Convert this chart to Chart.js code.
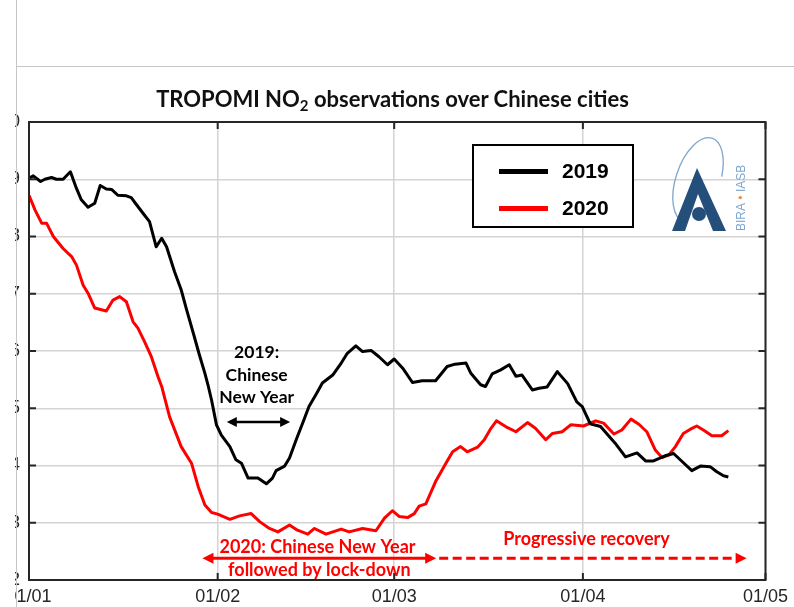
<!DOCTYPE html>
<html>
<head>
<meta charset="utf-8">
<script src="https://cdn.jsdelivr.net/npm/chart.js@4.4.1/dist/chart.umd.min.js"></script>
<style>
  html, body { margin: 0; padding: 0; background: #fff; }
  body { width: 794px; height: 607px; position: relative; overflow: hidden; }
  #frame { position: absolute; left: 15px; top: 0; width: 779px; height: 607px; overflow: hidden; }
  #frame canvas { position: absolute; left: -15px; top: 0; }
  #edgeV { position: absolute; left: 16px; top: 0; width: 1px; height: 607px; background: #c6c6c6; }
  #edgeH { position: absolute; left: 16px; top: 66px; width: 778px; height: 1px; background: #c6c6c6; }
  #title { position: absolute; left: 0; top: 88px; width: 785px; text-align: center;
           font: bold 22px Lato, 'Open Sans', sans-serif; line-height: 22px; color: #111; white-space: nowrap; }
  #title sub { font-size: 15px; line-height: 0; vertical-align: -4px; }
</style>
</head>
<body>
<div id="frame"><canvas id="chart" width="794" height="607"></canvas></div>
<div id="edgeV"></div>
<div id="edgeH"></div>
<div id="title">TROPOMI NO<sub>2</sub> observations over Chinese cities</div>
<script>
// Days since 1 January and mean tropospheric NO2 column for each year
const day2019 = [0, 0.7, 1.9, 2.6, 3.7, 4.5, 5.6, 6.8, 7.8, 8.6, 9.7, 10.8, 11.7, 12.7, 13.6, 14.6, 16, 16.8,
  17.7, 18.7, 19.8, 20.9, 21.8, 22.6, 23.9, 25, 25.9, 27, 28, 28.9, 29.4, 30, 30.8, 31.6, 33, 34, 34.9,
  36, 37.6, 39, 40, 40.6, 42, 42.8, 43.9, 45, 46, 47.2, 48.2, 49.9, 51.3, 52.3, 53.7, 54.8, 56.2, 57.5,
  58.9, 60, 61.4, 63, 64.6, 66.8, 68.7, 70, 71.8, 72.6, 74.2, 75, 76.1, 77.5, 78.9, 80, 81, 82.7, 83.8,
  85.1, 86.8, 88.5, 90, 90.9, 92.2, 93.9, 96.3, 98, 99.9, 101.3, 102.6, 104.5, 105.9, 107.3, 108.9,
  110.3, 111.9, 113, 114.1, 114.9];
const no2_2019 = [9.02, 9.06, 8.96, 9.00, 9.03, 9.00, 9.00, 9.13, 8.84, 8.64, 8.51, 8.58, 8.89, 8.83, 8.82, 8.72, 8.71, 8.68,
  8.55, 8.41, 8.26, 7.82, 7.97, 7.82, 7.39, 7.07, 6.72, 6.31, 5.93, 5.61, 5.41, 5.14, 4.71, 4.53, 4.33, 4.10, 4.04,
  3.78, 3.78, 3.68, 3.78, 3.91, 3.99, 4.13, 4.45, 4.75, 5.03, 5.25, 5.44, 5.58, 5.79, 5.96, 6.09, 5.99, 6.01, 5.90,
  5.76, 5.86, 5.70, 5.45, 5.48, 5.48, 5.73, 5.77, 5.79, 5.61, 5.41, 5.38, 5.60, 5.67, 5.76, 5.56, 5.58, 5.32, 5.35,
  5.37, 5.64, 5.43, 5.11, 5.03, 4.73, 4.68, 4.39, 4.15, 4.22, 4.08, 4.08, 4.17, 4.21, 4.07, 3.91,
  3.99, 3.98, 3.89, 3.82, 3.80];

const day2020 = [0, 1, 2.1, 2.9, 4, 5.6, 7, 7.8, 8.9, 9.7, 10.8, 12.7, 13.8, 14.9, 16, 17.1, 17.9, 19, 20.1,
  21.2, 21.8, 23.1, 25, 26.7, 27.8, 28.9, 30, 31, 33, 34.6, 36.5, 37.9, 39.5, 40.9, 42.8, 44.1, 45.8, 46.9,
  48.8, 51.3, 52.6, 54.8, 57, 58.4, 59.7, 60.8, 62.2, 63.3, 64.1, 65.2, 66.8, 68.5, 69.6, 70.9, 72, 73.7,
  74.8, 75.9, 76.8, 78.3, 80, 81.9, 83.2, 84.9, 86, 87.6, 89, 91.1, 93.1, 94.4, 96.1, 97.4, 98.9, 100.2,
  101.5, 102.9, 104, 105.1, 106.2, 107.5, 108.6, 109.7, 110.8, 112.2, 113.8, 114.9];
const no2_2020 = [8.72, 8.46, 8.23, 8.23, 8.00, 7.79, 7.65, 7.50, 7.15, 7.01, 6.75, 6.70, 6.89, 6.95, 6.86, 6.51, 6.40, 6.16, 5.90,
  5.55, 5.38, 4.85, 4.33, 4.04, 3.63, 3.31, 3.18, 3.15, 3.06, 3.12, 3.16, 3.02, 2.90, 2.84, 2.96, 2.87, 2.80, 2.90,
  2.80, 2.89, 2.84, 2.90, 2.86, 3.08, 3.21, 3.11, 3.09, 3.16, 3.29, 3.33, 3.72, 4.04, 4.24, 4.33, 4.24, 4.32,
  4.45, 4.65, 4.78, 4.68, 4.59, 4.75, 4.65, 4.45, 4.56, 4.59, 4.71, 4.69, 4.78, 4.74, 4.55, 4.62, 4.81, 4.72,
  4.59, 4.27, 4.14, 4.18, 4.33, 4.56, 4.63, 4.69, 4.62, 4.52, 4.52, 4.61];

const seriesNames = ['2019', '2020'];
const monthTicks = [0, 31, 60, 91, 121];
const monthLabels = ['01/01', '01/02', '01/03', '01/04', '01/05'];
const valueTicks = [2, 3, 4, 5, 6, 7, 8, 9, 10];

const toPoints = (days, vals) => days.map((d, i) => ({ x: d, y: vals[i] }));

const AXIS_COLOR = '#262626';
const GRID_COLOR = '#d4d4d4';
const RED = '#ff0000';

function arrowHead(ctx, x, y, dir, len, half) {
  ctx.beginPath();
  ctx.moveTo(x, y);
  ctx.lineTo(x - dir * len, y - half);
  ctx.lineTo(x - dir * len, y + half);
  ctx.closePath();
  ctx.fill();
}

// Box around the plot with inward tick marks on all four sides
const axesBox = {
  id: 'axesBox',
  afterDatasetsDraw(chart) {
    const { ctx, chartArea: a, scales } = chart;
    ctx.save();
    ctx.strokeStyle = AXIS_COLOR;
    ctx.lineWidth = 2;
    ctx.strokeRect(a.left, a.top, a.right - a.left, a.bottom - a.top);
    const t = 7;
    ctx.beginPath();
    valueTicks.forEach(v => {
      const y = scales.y.getPixelForValue(v);
      ctx.moveTo(a.left, y); ctx.lineTo(a.left + t, y);
      ctx.moveTo(a.right, y); ctx.lineTo(a.right - t, y);
    });
    monthTicks.forEach(v => {
      const x = scales.x.getPixelForValue(v);
      ctx.moveTo(x, a.bottom); ctx.lineTo(x, a.bottom - t);
      ctx.moveTo(x, a.top); ctx.lineTo(x, a.top + t);
    });
    ctx.stroke();
    ctx.restore();
  }
};

// Text and arrows marking the New Year periods
const notes = {
  id: 'notes',
  afterDatasetsDraw(chart) {
    const { ctx, scales: { x: sx, y: sy } } = chart;
    const X = v => sx.getPixelForValue(v), Y = v => sy.getPixelForValue(v);
    ctx.save();
    ctx.textAlign = 'center';
    ctx.textBaseline = 'middle';

    // 2019 holiday
    ctx.fillStyle = '#000';
    ctx.font = 'bold 17.5px Lato, sans-serif';
    ['2019:', 'Chinese', 'New Year'].forEach((s, i) => ctx.fillText(s, X(37.4), Y([5.98, 5.58, 5.19][i])));
    const ay = Y(4.76), ax0 = X(32.5), ax1 = X(42.9);
    ctx.strokeStyle = '#000';
    ctx.lineWidth = 2.5;
    ctx.beginPath(); ctx.moveTo(ax0 + 6, ay); ctx.lineTo(ax1 - 6, ay); ctx.stroke();
    arrowHead(ctx, ax0, ay, -1, 10, 5);
    arrowHead(ctx, ax1, ay, 1, 10, 5);

    // 2020 holiday, lock-down and recovery
    ctx.fillStyle = RED;
    ctx.strokeStyle = RED;
    ctx.font = 'bold 18px Lato, sans-serif';
    ctx.fillText('2020: Chinese New Year', X(47.4), Y(2.58));
    ctx.fillText('followed by lock-down', X(47.7), Y(2.17));
    ctx.fillText('Progressive recovery', X(91.6), Y(2.72));
    const ry = Y(2.38), r0 = X(28.5), r1 = X(66.9), r2 = X(117.9);
    ctx.lineWidth = 3;
    ctx.beginPath(); ctx.moveTo(r0 + 6, ry); ctx.lineTo(r1 - 6, ry); ctx.stroke();
    arrowHead(ctx, r0, ry, -1, 11, 5.5);
    arrowHead(ctx, r1, ry, 1, 11, 5.5);
    ctx.setLineDash([9, 4.5]);
    ctx.beginPath(); ctx.moveTo(r1 + 3, ry); ctx.lineTo(r2 - 8, ry); ctx.stroke();
    ctx.setLineDash([]);
    arrowHead(ctx, r2, ry, 1, 11, 5.5);
    ctx.restore();
  }
};

// Boxed legend and institute logo in the upper right
const legendAndLogo = {
  id: 'legendAndLogo',
  afterDraw(chart) {
    const { ctx } = chart;
    ctx.save();
    // legend box
    ctx.fillStyle = '#fff';
    ctx.fillRect(473, 145, 160, 82);
    ctx.strokeStyle = '#000';
    ctx.lineWidth = 2;
    ctx.strokeRect(473, 145, 160, 82);
    chart.data.datasets.forEach((ds, i) => {
      const y = 171.5 + i * 37;
      ctx.strokeStyle = ds.borderColor;
      ctx.lineWidth = 5;
      ctx.beginPath(); ctx.moveTo(499, y); ctx.lineTo(548, y); ctx.stroke();
      ctx.fillStyle = '#000';
      ctx.font = 'bold 21px "Liberation Sans", Arial, sans-serif';
      ctx.textAlign = 'left';
      ctx.textBaseline = 'middle';
      ctx.fillText(ds.label, 562, y + 1);
    });

    // logo: orbit arc
    ctx.strokeStyle = '#7ea6cf';
    ctx.lineWidth = 1.3;
    ctx.beginPath();
    ctx.ellipse(698, 180, 22, 44, 0.33, 1.55, 2 * Math.PI - 0.25);
    ctx.stroke();
    // logo: A and dot
    ctx.fillStyle = '#244f7b';
    ctx.beginPath();
    ctx.moveTo(697, 168);
    ctx.lineTo(726, 231);
    ctx.lineTo(713, 231);
    ctx.lineTo(698, 194);
    ctx.lineTo(685, 231);
    ctx.lineTo(672, 231);
    ctx.closePath();
    ctx.fill();
    ctx.beginPath();
    ctx.arc(699, 214, 7, 0, 2 * Math.PI);
    ctx.fill();
    // logo: vertical name
    ctx.translate(742, 231);
    ctx.rotate(-Math.PI / 2);
    ctx.font = '12px "Liberation Sans", Arial, sans-serif';
    ctx.textAlign = 'left';
    ctx.textBaseline = 'middle';
    let px = 0;
    [['BIRA', '#7ea6cf'], [' \u2022 ', '#e8903a'], ['IASB', '#7ea6cf']].forEach(([s, c]) => {
      ctx.fillStyle = c;
      ctx.fillText(s, px, 0);
      px += ctx.measureText(s).width;
    });
    ctx.restore();
  }
};

new Chart(document.getElementById('chart'), {
  type: 'line',
  data: {
    datasets: [
      { label: seriesNames[0], data: toPoints(day2019, no2_2019), borderColor: '#000000', borderWidth: 3,
        pointRadius: 0, tension: 0, borderJoinStyle: 'round', fill: false },
      { label: seriesNames[1], data: toPoints(day2020, no2_2020), borderColor: RED, borderWidth: 3,
        pointRadius: 0, tension: 0, borderJoinStyle: 'round', fill: false }
    ]
  },
  options: {
    responsive: false,
    animation: false,
    layout: { padding: { left: 0, right: 27, top: 122, bottom: 0 } },
    plugins: { legend: { display: false }, tooltip: { enabled: false }, title: { display: false } },
    scales: {
      x: {
        type: 'linear', min: 0, max: 121,
        afterBuildTicks: s => { s.ticks = monthTicks.map(v => ({ value: v })); },
        afterFit: s => { s.height = 27; },
        ticks: { callback: (v, i) => monthLabels[i], color: AXIS_COLOR, padding: 6, maxRotation: 0, autoSkip: false,
                 font: { family: '"Liberation Sans", Arial, sans-serif', size: 18 } },
        grid: { color: GRID_COLOR, lineWidth: 1.5, drawTicks: false },
        border: { display: false }
      },
      y: {
        min: 2, max: 10,
        afterBuildTicks: s => { s.ticks = valueTicks.map(v => ({ value: v })); },
        afterFit: s => { s.width = 29; },
        ticks: { color: AXIS_COLOR, padding: 9,
                 font: { family: '"Liberation Sans", Arial, sans-serif', size: 18 } },
        grid: { color: GRID_COLOR, lineWidth: 1.5, drawTicks: false },
        border: { display: false }
      }
    }
  },
  plugins: [axesBox, notes, legendAndLogo]
});
</script>
</body>
</html>
